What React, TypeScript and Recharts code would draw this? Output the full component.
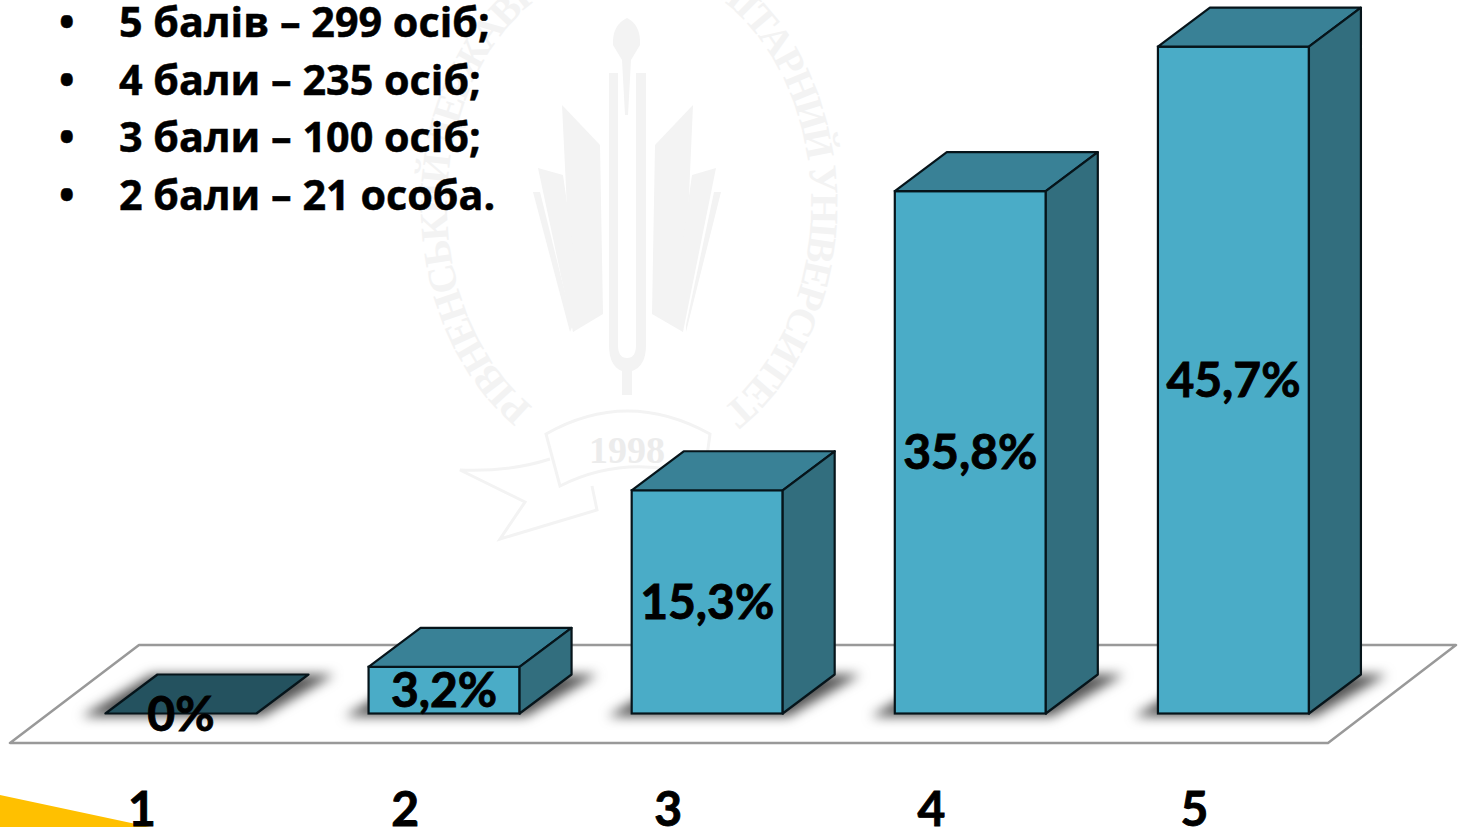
import React from "react";
import { BarChart, Bar, XAxis, YAxis, LabelList } from "recharts";

const categories = ["1", "2", "3", "4", "5"];
const percentValues = [0, 3.2, 15.3, 35.8, 45.7];
const percentLabels = ["0%", "3,2%", "15,3%", "35,8%", "45,7%"];
const bulletLines = ["5 балів – 299 осіб;", "4 бали – 235 осіб;", "3 бали – 100 осіб;", "2 бали – 21 особа."];

const chartData = categories.map((c, i) => ({ category: c, value: percentValues[i], label: percentLabels[i] }));

const W = 1460;
const H = 827;
const DX = 52;
const DY = 39;
const EDGE = "#06141a";
const WM = "#f3f3f3";

function Box3D(props: any) {
  const { x, y, width, height } = props;
  const base = y + height;
  const r = x + width;
  const shadow = `${x - 24},${base + 3} ${r + 6},${base + 3} ${r + DX + 26},${base - DY} ${x + DX - 6},${base - DY}`;
  if (height < 1) {
    return (
      <g>
        <polygon points={shadow} fill="#555" style={{ filter: "blur(6px)" }} />
        <polygon points={`${x},${base} ${r},${base} ${r + DX},${base - DY} ${x + DX},${base - DY}`} fill="#24525F" stroke={EDGE} strokeWidth={2.2} strokeLinejoin="round" />
      </g>
    );
  }
  return (
    <g>
      <polygon points={shadow} fill="#555" style={{ filter: "blur(6px)" }} />
      <rect x={x} y={y} width={width} height={height} fill="#4AACC7" stroke={EDGE} strokeWidth={2.2} />
      <polygon points={`${x},${y} ${r},${y} ${r + DX},${y - DY} ${x + DX},${y - DY}`} fill="#398196" stroke={EDGE} strokeWidth={2.2} strokeLinejoin="round" />
      <polygon points={`${r},${y} ${r + DX},${y - DY} ${r + DX},${base - DY} ${r},${base}`} fill="#326E7E" stroke={EDGE} strokeWidth={2.2} strokeLinejoin="round" />
    </g>
  );
}

function ShiftedTick(props: any) {
  const { x, y, payload } = props;
  return (
    <text x={x - 39} y={y + 104} textAnchor="middle" fontFamily="Lato" fontWeight={700} fontSize={48} fill="#000" stroke="#000" strokeWidth={0.9}>
      {payload.value}
    </text>
  );
}

function Backdrop() {
  return (
    <svg width={W} height={H} style={{ position: "absolute", left: 0, top: 0 }}>
      <defs>
        <path id="sealArc" d="M 533 407 A 182 238 0 1 1 725 407" />
      </defs>
      <text fontFamily="Liberation Serif" fontWeight={700} fontSize={40} fill={WM}>
        <textPath href="#sealArc" textLength={1120} lengthAdjust="spacing">РІВНЕНСЬКИЙ ДЕРЖАВНИЙ ГУМАНІТАРНИЙ УНІВЕРСИТЕТ</textPath>
      </text>
      <path d="M609 73 H618 V345 Q618 358 627 358 Q636 358 636 345 V73 H646 V345 Q646 366 632 371 V395 H622 V371 Q609 366 609 345 Z" fill={WM} />
      <path d="M625 115 L622 60 L613 45 Q612 25 627 18 Q641 25 640 45 L631 60 L628 115 Z" fill={WM} />
      <polygon points="562,105 600,145 603,314 573,332" fill={WM} />
      <polygon points="538,168 563,175 583,314 573,332" fill={WM} />
      <polygon points="533,192 540,192 573,325 570,332" fill={WM} />
      <polygon points="693,105 655,145 652,314 683,332" fill={WM} />
      <polygon points="716,168 692,175 672,314 683,332" fill={WM} />
      <polygon points="721,192 714,192 686,325 686,332" fill={WM} />
      <path d="M546 434 Q627 388 710 434 L704 478 Q627 452 560 486 Z" fill="none" stroke={WM} strokeWidth={3} />
      <path d="M550 459 Q510 472 460 470 L525 502 L500 539 L597 510 L592 486" fill="none" stroke={WM} strokeWidth={3} />
      <text x={627} y={463} textAnchor="middle" fontFamily="Liberation Serif" fontWeight={700} fontSize={38} fill="#ececec">1998</text>
      <polygon points="10,743 1328,743 1456,645 139,645" fill="#fff" stroke="#999" strokeWidth={2.5} strokeLinejoin="round" />
      <polygon points="0,795 150,827 0,827" fill="#FFC000" />
    </svg>
  );
}

export default function App() {
  return (
    <div style={{ position: "absolute", left: 0, top: 0, width: W, height: H, overflow: "hidden", background: "#fff" }}>
      <Backdrop />
      <div style={{ position: "absolute", left: 0, top: 0 }}>
        <BarChart width={W} height={H} data={chartData} margin={{ top: 0, right: 95, bottom: 83.5, left: 49.4 }} barCategoryGap="21.3%">
          <YAxis hide domain={[0, 48.9]} />
          <XAxis dataKey="category" axisLine={false} tickLine={false} height={30} interval={0} tick={<ShiftedTick />} />
          <Bar dataKey="value" shape={<Box3D />} isAnimationActive={false}>
            <LabelList dataKey="label" position="center" fontFamily="Lato" fontWeight={700} fontSize={48} fill="#000" stroke="#000" strokeWidth={0.9} />
          </Bar>
        </BarChart>
      </div>
      {bulletLines.map((line, i) => (
        <div key={line} style={{ position: "absolute", left: 0, top: -8 + i * 57.7, height: 58, lineHeight: "58px", fontFamily: "Open Sans", fontWeight: 700, fontSize: 41.3, color: "#000", whiteSpace: "nowrap", WebkitTextStroke: "0.5px #000" }}>
          <span style={{ position: "absolute", left: 59 }}>•</span>
          <span style={{ position: "absolute", left: 119 }}>{line}</span>
        </div>
      ))}
    </div>
  );
}
